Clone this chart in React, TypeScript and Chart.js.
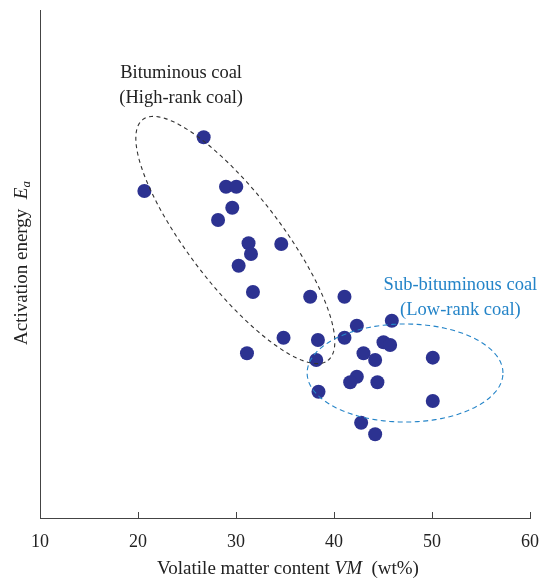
import React, { useEffect, useRef } from "react";
import { Chart, registerables } from "chart.js";

Chart.register(...registerables);

const vmContent: number[] = [
  20.65, 26.7, 28.98, 30.03, 29.62, 28.17, 31.28, 31.53, 30.27, 31.73, 34.62,
  37.57, 41.07, 41.07, 42.33, 45.9, 34.85, 38.36, 31.12, 45.05, 45.73, 43.01,
  44.2, 38.19, 50.08, 42.33, 41.65, 44.43, 38.42, 50.08, 42.77, 44.2,
];
const activationEnergy: number[] = [
  64.37, 74.94, 65.22, 65.22, 61.08, 58.66, 54.07, 51.97, 49.67, 44.49, 53.94,
  43.56, 43.56, 35.49, 37.85, 38.84, 35.49, 35.04, 32.42, 34.59, 34.06, 32.42,
  31.1, 31.1, 31.56, 27.81, 26.71, 26.71, 24.86, 23.03, 18.76, 16.48,
];
const xTicks: number[] = [10, 20, 30, 40, 50, 60];

// group outlines: centre (data units) and two half-axis vectors (data units)
const bitCentre = [29.93, 54.72];
const bitAxisA = [9.45, -23.7];
const bitAxisB = [3.71, 5.53];
const subCentre = [47.25, 28.54];
const subAxisA = [9.99, 0];
const subAxisB = [0, 9.65];

const bitLabel = ["Bituminous coal", "(High-rank coal)"];
const bitLabelAt = [24.4, 87.6];
const subLabel = ["Sub-bituminous coal", "(Low-rank coal)"];
const subLabelAt = [52.9, 45.87];

const SERIF = "'Liberation Serif', 'DejaVu Serif', serif";
const BLUE = "rgb(36,132,200)";

export default function App() {
  const ref = useRef<HTMLCanvasElement | null>(null);
  useEffect(() => {
    if (!ref.current) return;
    const decor = {
      id: "decor",
      afterDatasetsDraw(chart: any) {
        const ctx = chart.ctx as CanvasRenderingContext2D;
        const xs = chart.scales.x;
        const ys = chart.scales.y;
        const area = chart.chartArea;
        ctx.save();
        // inward ticks
        ctx.strokeStyle = "#444";
        ctx.lineWidth = 1;
        xTicks.forEach((t) => {
          const px = Math.round(xs.getPixelForValue(t)) + 0.5;
          ctx.beginPath();
          ctx.moveTo(px, area.bottom);
          ctx.lineTo(px, area.bottom - 6);
          ctx.stroke();
        });
        const ellipse = (c: number[], a: number[], b: number[], color: string, dash: number[]) => {
          ctx.beginPath();
          ctx.setLineDash(dash);
          ctx.strokeStyle = color;
          ctx.lineWidth = 1.1;
          for (let i = 0; i <= 200; i++) {
            const th = (i / 200) * Math.PI * 2;
            const dx = c[0] + a[0] * Math.cos(th) + b[0] * Math.sin(th);
            const dy = c[1] + a[1] * Math.cos(th) + b[1] * Math.sin(th);
            const px = xs.getPixelForValue(dx);
            const py = ys.getPixelForValue(dy);
            if (i === 0) ctx.moveTo(px, py);
            else ctx.lineTo(px, py);
          }
          ctx.closePath();
          ctx.stroke();
          ctx.setLineDash([]);
        };
        ellipse(bitCentre, bitAxisA, bitAxisB, "#333", [4, 3.5]);
        ellipse(subCentre, subAxisA, subAxisB, BLUE, [5, 3.5]);
        // labels
        ctx.font = `18.5px ${SERIF}`;
        ctx.textAlign = "center";
        ctx.textBaseline = "middle";
        const lbl = (lines: string[], at: number[], color: string) => {
          ctx.fillStyle = color;
          const px = xs.getPixelForValue(at[0]);
          const py = ys.getPixelForValue(at[1]);
          lines.forEach((l, i) => ctx.fillText(l, px, py + i * 25));
        };
        lbl(bitLabel, bitLabelAt, "#222");
        lbl(subLabel, subLabelAt, BLUE);
        // x title
        const FS = 19;
        ctx.fillStyle = "#222";
        ctx.textAlign = "left";
        const p1 = "Volatile matter content ";
        const p2 = "VM";
        const p3 = "  (wt%)";
        ctx.font = `${FS}px ${SERIF}`;
        const w1 = ctx.measureText(p1).width;
        const w3 = ctx.measureText(p3).width;
        ctx.font = `italic ${FS}px ${SERIF}`;
        const w2 = ctx.measureText(p2).width;
        const tot = w1 + w2 + w3;
        const cx = (area.left + area.right) / 2 + 3;
        const x0 = cx - tot / 2;
        const ty = 569;
        ctx.font = `${FS}px ${SERIF}`;
        ctx.fillText(p1, x0, ty);
        ctx.font = `italic ${FS}px ${SERIF}`;
        ctx.fillText(p2, x0 + w1, ty);
        ctx.font = `${FS}px ${SERIF}`;
        ctx.fillText(p3, x0 + w1 + w2, ty);
        // y title
        ctx.translate(22, 263);
        ctx.rotate(-Math.PI / 2);
        const q1 = "Activation energy  ";
        const q2 = "E";
        const q3 = "a";
        ctx.font = `${FS}px ${SERIF}`;
        const v1 = ctx.measureText(q1).width;
        ctx.font = `italic ${FS}px ${SERIF}`;
        const v2 = ctx.measureText(q2).width;
        ctx.font = `italic 13px ${SERIF}`;
        const v3 = ctx.measureText(q3).width;
        const s0 = -(v1 + v2 + v3) / 2;
        ctx.font = `${FS}px ${SERIF}`;
        ctx.fillText(q1, s0, 0);
        ctx.font = `italic ${FS}px ${SERIF}`;
        ctx.fillText(q2, s0 + v1, 0);
        ctx.font = `italic 13px ${SERIF}`;
        ctx.fillText(q3, s0 + v1 + v2, 5);
        ctx.restore();
      },
    };
    const chart = new Chart(ref.current, {
      type: "scatter",
      data: {
        datasets: [
          {
            data: vmContent.map((v, i) => ({ x: v, y: activationEnergy[i] })),
            backgroundColor: "rgb(44,50,145)",
            borderWidth: 0,
            pointRadius: 7,
            pointHoverRadius: 7,
          },
        ],
      },
      options: {
        animation: false,
        responsive: false,
        maintainAspectRatio: false,
        layout: { padding: { left: 0, right: 18, top: 10, bottom: 0 } },
        plugins: { legend: { display: false }, tooltip: { enabled: false } },
        scales: {
          x: {
            type: "linear",
            min: 10,
            max: 60,
            afterFit: (s: any) => {
              s.height = 60;
              s.paddingLeft = 0;
              s.paddingRight = 0;
            },
            afterBuildTicks: (s: any) => {
              s.ticks = xTicks.map((v) => ({ value: v }));
            },
            grid: { display: false, drawTicks: false },
            border: { display: true, color: "#444", width: 1 },
            ticks: {
              color: "#222",
              font: { family: SERIF, size: 18 },
              padding: 13,
              maxRotation: 0,
            },
          },
          y: {
            type: "linear",
            min: 0,
            max: 100,
            afterFit: (s: any) => {
              s.width = 40;
            },
            grid: { display: false, drawTicks: false },
            border: { display: true, color: "#444", width: 1 },
            ticks: { display: false },
          },
        },
      },
      plugins: [decor],
    });
    return () => chart.destroy();
  }, []);
  return (
    <div style={{ position: "fixed", left: 0, top: 0, width: 548, height: 578, background: "#fff" }}>
      <canvas ref={ref} width={548} height={578} />
    </div>
  );
}
